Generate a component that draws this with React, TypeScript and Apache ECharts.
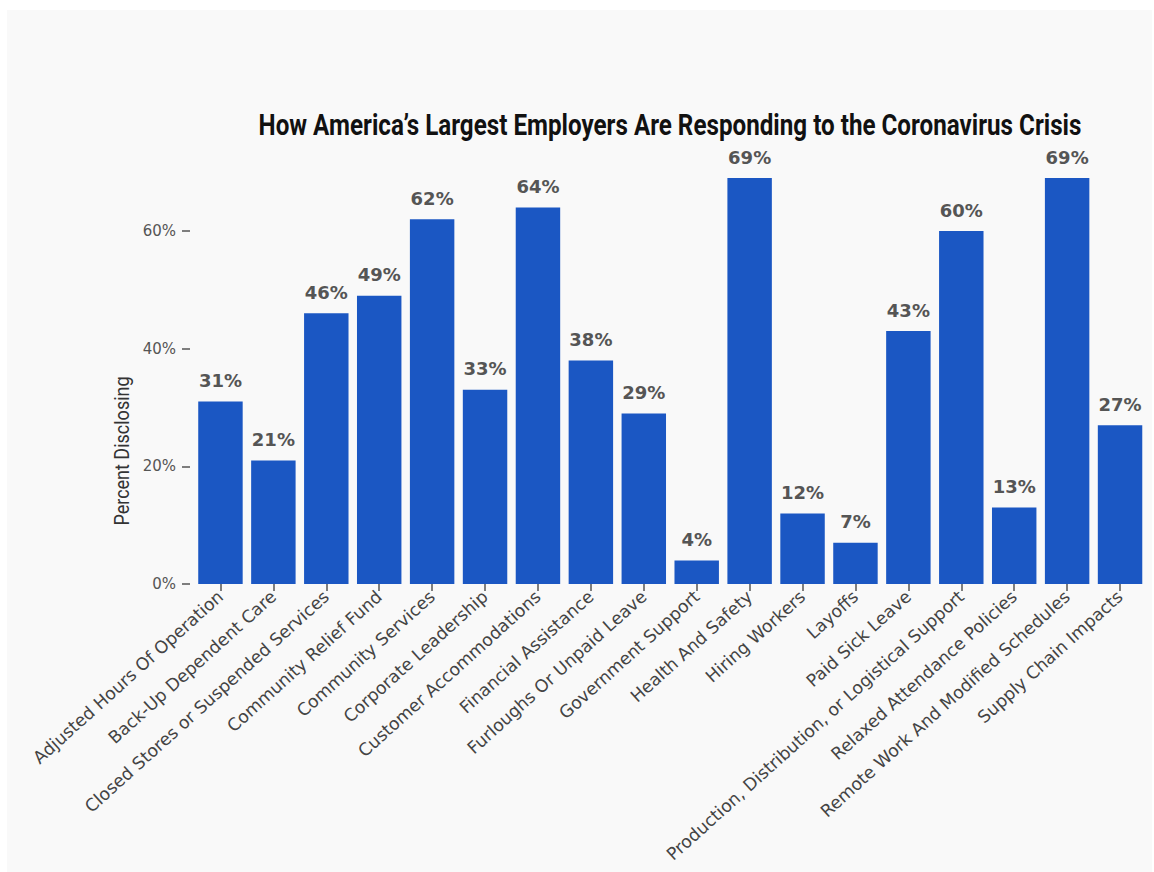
import React, { useEffect, useRef } from "react";
import * as echarts from "echarts";

const categories = [
  "Adjusted Hours Of Operation",
  "Back-Up Dependent Care",
  "Closed Stores or Suspended Services",
  "Community Relief Fund",
  "Community Services",
  "Corporate Leadership",
  "Customer Accommodations",
  "Financial Assistance",
  "Furloughs Or Unpaid Leave",
  "Government Support",
  "Health And Safety",
  "Hiring Workers",
  "Layoffs",
  "Paid Sick Leave",
  "Production, Distribution, or Logistical Support",
  "Relaxed Attendance Policies",
  "Remote Work And Modified Schedules",
  "Supply Chain Impacts",
];

const percentDisclosing = [31, 21, 46, 49, 62, 33, 64, 38, 29, 4, 69, 12, 7, 43, 60, 13, 69, 27];

const yTicks = [0, 20, 40, 60];

const titleText = "How America\u2019s Largest Employers Are Responding to the Coronavirus Crisis";
const yAxisName = "Percent Disclosing";

export default function App() {
  const ref = useRef<HTMLDivElement>(null);
  useEffect(() => {
    if (!ref.current) return;
    const chart = echarts.init(ref.current, undefined, { renderer: "svg" });
    chart.setOption({
      animation: false,
      backgroundColor: "transparent",
      graphic: [
        {
          type: "text",
          x: 670,
          y: 125,
          scaleX: 0.807,
          style: {
            text: titleText,
            fontFamily: "Roboto, sans-serif",
            fontWeight: "bold",
            fontSize: 30,
            fill: "#111",
            textAlign: "center",
            textVerticalAlign: "middle",
          },
        },
        {
          type: "text",
          x: 122,
          y: 451,
          rotation: Math.PI / 2,
          scaleX: 0.9,
          style: {
            text: yAxisName,
            fontFamily: "Roboto, sans-serif",
            fontSize: 20,
            fill: "#333",
            textAlign: "center",
            textVerticalAlign: "middle",
          },
        },
      ],
      grid: {
        left: 194,
        right: 7.5,
        top: 584 - 70 * (353 / 60),
        bottom: 288,
        containLabel: false,
      },
      xAxis: {
        type: "category",
        data: categories,
        axisLine: { show: false },
        axisTick: {
          show: true,
          alignWithLabel: true,
          length: 7,
          lineStyle: { color: "#555", width: 1.5 },
        },
        axisLabel: {
          rotate: 42,
          margin: 10,
          interval: 0,
          fontFamily: "'DejaVu Sans', sans-serif",
          fontSize: 17.3,
          color: "#444",
        },
      },
      yAxis: {
        type: "value",
        min: 0,
        max: 70,
        interval: 20,
        offset: 4,
        splitLine: { show: false },
        axisLine: { show: false },
        axisTick: {
          show: true,
          length: 8,
          lineStyle: { color: "#555", width: 1.5 },
        },
        axisLabel: {
          margin: 14,
          showMaxLabel: false,
          fontFamily: "'DejaVu Sans', sans-serif",
          fontSize: 15,
          color: "#555",
          formatter: (v: number) => (yTicks.includes(v) ? v + "%" : ""),
        },
      },
      series: [
        {
          type: "bar",
          data: percentDisclosing,
          barCategoryGap: "16%",
          itemStyle: { color: "#1b57c3" },
          label: {
            show: true,
            position: "top",
            distance: 12,
            formatter: "{c}%",
            fontFamily: "'DejaVu Sans', sans-serif",
            fontWeight: "bold",
            fontSize: 18,
            color: "#555",
          },
        },
      ],
    });
    return () => chart.dispose();
  }, []);
  return (
    <div style={{ position: "absolute", left: 0, top: 0, width: 1154, height: 872, background: "#fff" }}>
      <div
        style={{ position: "absolute", left: 7, top: 10, width: 1145, height: 862, background: "#f9f9f9" }}
      />
      <div ref={ref} style={{ position: "absolute", left: 0, top: 0, width: 1154, height: 872 }} />
    </div>
  );
}
